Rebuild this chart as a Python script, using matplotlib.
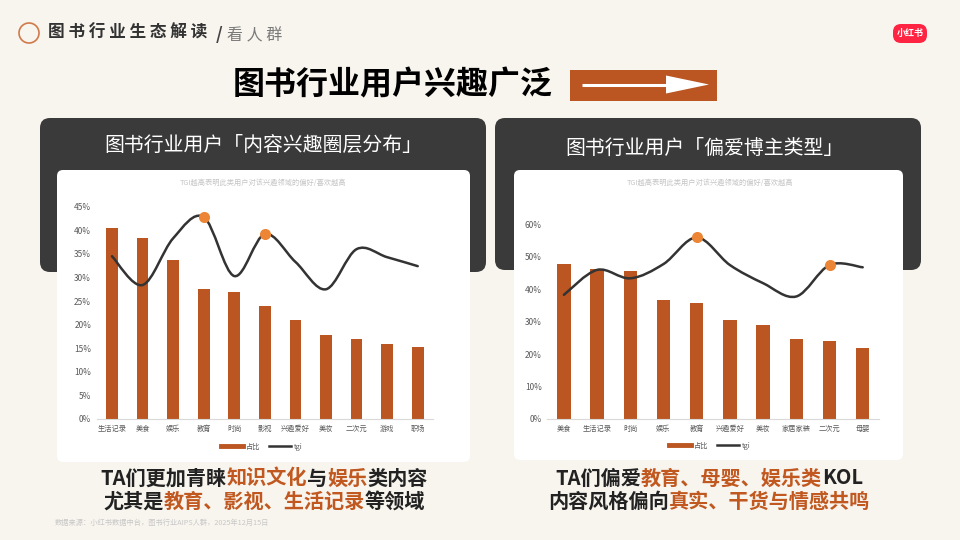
import numpy as np
import matplotlib
matplotlib.use('Agg')
import matplotlib.pyplot as plt
from matplotlib.patches import FancyBboxPatch, Rectangle, Polygon, Circle, PathPatch
from matplotlib.path import Path
from matplotlib.lines import Line2D

plt.rcParams['font.family'] = ['Noto Sans CJK SC', 'DejaVu Sans']

# data
interest_cats = ['生活记录', '美食', '娱乐', '教育', '时尚', '影视', '兴趣爱好', '美妆', '二次元', '游戏', '职场']
interest_share = [40.4, 38.3, 33.8, 27.6, 27.0, 24.0, 20.9, 17.9, 16.9, 16.0, 15.2]
interest_tgi = [34.5, 28.4, 38.3, 42.8, 30.3, 39.2, 33.3, 27.5, 36.0, 34.3, 32.4]
interest_marked = ['教育', '影视']
interest_ticks = [0, 5, 10, 15, 20, 25, 30, 35, 40, 45]

blogger_cats = ['美食', '生活记录', '时尚', '娱乐', '教育', '兴趣爱好', '美妆', '家居家装', '二次元', '母婴']
blogger_share = [47.7, 46.3, 45.6, 36.7, 35.8, 30.6, 29.1, 24.8, 24.2, 21.8]
blogger_tgi = [38.3, 46.0, 43.4, 47.8, 56.0, 47.5, 41.9, 37.8, 47.5, 46.8]
blogger_marked = ['教育', '二次元']
blogger_ticks = [0, 10, 20, 30, 40, 50, 60]

BG = '#f8f4ee'
DARK = '#3a3a3a'
BAR = '#bb5521'
ACCENT = '#c0581f'
DOT = '#ec8535'
INK = '#222222'

fig = plt.figure(figsize=(9.6, 5.4), dpi=100, facecolor=BG)
bg = fig.add_axes([0, 0, 1, 1])
bg.set_xlim(0, 960)
bg.set_ylim(540, 0)
bg.axis('off')
renderer = fig.canvas.get_renderer()


def rbox(x, y, w, h, color, r=10):
    bg.add_patch(FancyBboxPatch((x, y), w, h, boxstyle=f'round,pad=0,rounding_size={r}',
                                fc=color, ec='none'))


def ink_width(s, **kw):
    t = bg.text(0, 0, s, **kw)
    w = t.get_window_extent(renderer).width
    t.remove()
    return w


def rich_line(xc, base, parts, size):
    kw = dict(fontsize=size, fontweight='bold')
    full = ''.join(s for s, _ in parts)
    x0 = xc - ink_width(full, **kw) / 2
    prefix = ''
    for s, c in parts:
        prefix += s
        x = x0 + ink_width(prefix, **kw) - ink_width(s, **kw)
        bg.text(x, base, s, color=c, ha='left', va='baseline', **kw)


# header
bg.add_patch(Circle((29, 33), 10, fc='none', ec='#d07a4a', lw=1.2))
bg.text(48, 33, ' '.join('图书行业生态解读'), fontsize=12, fontweight='bold', color='#333333',
        ha='left', va='center')
bg.text(216, 35, '/', fontsize=12.5, fontweight='bold', color='#444444', va='center')
bg.text(227, 35.5, ' '.join('看人群'), fontsize=11.5, color='#7a7a7a', va='center')
rbox(893, 24, 34, 19, '#ff2442', r=8)
bg.text(910, 33.5, '小红书', fontsize=6.5, fontweight='bold', color='white', ha='center', va='center')

# main title + arrow box
bg.text(393, 85, '图书行业用户兴趣广泛', fontsize=23, fontweight='heavy', color='black',
        ha='center', va='center')
bg.add_patch(Rectangle((570, 70), 147, 31, fc=BAR, ec='none'))
bg.plot([582, 668], [84.5, 84.5], color='white', lw=2.2, solid_capstyle='butt')
bg.add_patch(Polygon([(666, 75.5), (709, 84.5), (666, 93.5)], fc='white', ec='none'))

# panels
rbox(40, 118, 446, 154, DARK)
rbox(495, 118, 426, 152, DARK)
rbox(57, 170, 413, 292, 'white', r=6)
rbox(514, 170, 389, 290, 'white', r=6)
bg.text(263, 145, '图书行业用户「内容兴趣圈层分布」', fontsize=14.3, color='white', ha='center', va='center')
bg.text(704, 148, '图书行业用户「偏爱博主类型」', fontsize=14.3, color='white', ha='center', va='center')
sub = 'TGI越高表明此类用户对该兴趣领域的偏好/喜欢越高'
bg.text(263, 183, sub, fontsize=5.2, color='#c4c4c4', ha='center', va='center')
bg.text(710, 183, sub, fontsize=5.2, color='#c4c4c4', ha='center', va='center')

# bottom notes
rich_line(264, 484.5, [('TA们更加青睐', INK), ('知识文化', ACCENT), ('与', INK), ('娱乐', ACCENT),
                       ('类内容', INK)], 14.5)
rich_line(264, 507.5, [('尤其是', INK), ('教育、影视、生活记录', ACCENT), ('等领域', INK)], 14.5)
rich_line(709, 484.5, [('TA们偏爱', INK), ('教育、母婴、娱乐类', ACCENT), ('KOL', INK)], 14.5)
rich_line(709, 507.5, [('内容风格偏向', INK), ('真实、干货与情感共鸣', ACCENT)], 14.5)
bg.text(55, 523, '数据来源：小红书数据中台，图书行业AIPS人群，2025年12月15日', fontsize=5.2,
        color='#c8c8c8', va='center')


def smooth(ax, ys, color):
    pts = np.column_stack([np.arange(len(ys)), ys]).astype(float)
    n = len(pts)
    verts, codes = [pts[0]], [Path.MOVETO]
    for i in range(n - 1):
        p0, p1, p2, p3 = pts[max(i - 1, 0)], pts[i], pts[i + 1], pts[min(i + 2, n - 1)]
        verts += [p1 + (p2 - p0) / 6, p2 - (p3 - p1) / 6, p2]
        codes += [Path.CURVE4] * 3
    ax.add_patch(PathPatch(Path(verts, codes), fill=False, ec=color, lw=1.8, zorder=3,
                           capstyle='round'))


def chart(rect, cats, share, tgi, marked, ticks, width, legend_xy):
    ax = fig.add_axes(rect)
    ax.patch.set_alpha(0)
    x = np.arange(len(cats))
    ax.bar(x, share, width=width, color=BAR, zorder=2)
    smooth(ax, tgi, '#333333')
    idx = [cats.index(c) for c in marked]
    ax.plot(x[idx], np.array(tgi)[idx], 'o', ms=8, color=DOT, mec='none', zorder=4)
    ax.set_xlim(-0.5, len(cats) - 0.5)
    ax.set_ylim(ticks[0], ticks[-1])
    ax.set_yticks(ticks)
    ax.set_yticklabels([f'{t}%' for t in ticks])
    ax.set_xticks(x)
    ax.set_xticklabels(cats, va='baseline')
    ax.tick_params(length=0, labelcolor='#595959')
    ax.tick_params(axis='y', pad=4, labelsize=6)
    ax.tick_params(axis='x', pad=8.3, labelsize=5.2)
    for s in ['top', 'right', 'left']:
        ax.spines[s].set_visible(False)
    ax.spines['bottom'].set_color('#d9d9d9')
    ax.spines['bottom'].set_linewidth(0.8)
    handles = [Line2D([], [], color=BAR, lw=3.5), Line2D([], [], color='#333333', lw=1.8)]
    ax.legend(handles, ['占比', 'tgi'], loc='center', ncol=2, frameon=False, fontsize=5.2,
              handlelength=3, handletextpad=0.4, columnspacing=1.2, labelcolor='#595959',
              bbox_to_anchor=legend_xy, bbox_transform=fig.transFigure)
    return ax


chart([96.7 / 960, 121 / 540, 336.3 / 960, 212.3 / 540], interest_cats, interest_share,
      interest_tgi, interest_marked, interest_ticks, 0.38, (262 / 960, 93 / 540))
chart([547.3 / 960, 121 / 540, 332 / 960, 194.5 / 540], blogger_cats, blogger_share,
      blogger_tgi, blogger_marked, blogger_ticks, 0.4, (710 / 960, 94 / 540))

fig.savefig('out.png', dpi=100, facecolor=BG)
